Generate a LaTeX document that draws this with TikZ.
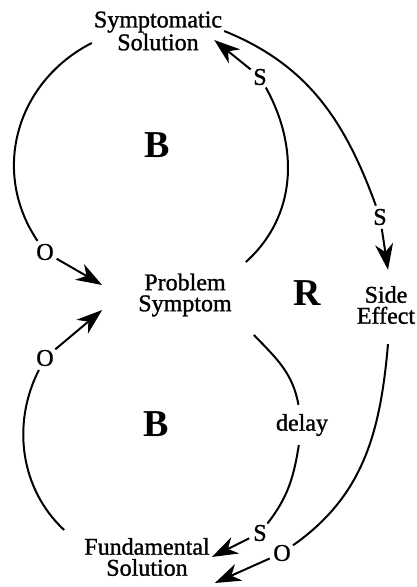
\documentclass[tikz,border=0pt]{standalone}
\usepackage{fontspec}
\setmainfont{Liberation Serif}[UprightFeatures={FakeBold=1.2}]
\usetikzlibrary{arrows.meta}

\tikzset{
  var/.style={align=center,font=\fontsize{24}{21}\selectfont,inner sep=2pt},
  sign/.style={circle,inner sep=1pt,font=\fontsize{24}{24}\selectfont},
  loopmark/.style={font=\bfseries\fontsize{38}{38}\selectfont},
  link/.style={line width=2pt},
  arr/.style={link,-{Stealth[length=26pt,width=18pt,inset=8pt]}}
}

\begin{document}
\begin{tikzpicture}[x=1pt,y=1pt]
\useasboundingbox (0,0) rectangle (417,587);
% variables
\node[var] (symsol) at (158,556) {Symptomatic\\Solution};
\node[var] (probsym) at (185,292) {Problem\\Symptom};
\node[var] (sideeff) at (386,282) {Side\\Effect};
\node[var] (fundsol) at (147,30) {Fundamental\\Solution};
% loop markers
\node[loopmark] (btop) at (157,442) {B};
\node[loopmark] (rmid) at (307,294) {R};
\node[loopmark] (bbot) at (156,163) {B};
% link signs
\node[sign] (s1) at (260,510) {S};
\node[sign] (s2) at (380,370) {S};
\node[sign] (s3) at (260,54) {S};
\node[sign] (o1) at (45,335) {O};
\node[sign] (o2) at (45,229) {O};
\node[sign] (o4) at (282,34) {O};
\node[var,inner ysep=9pt] (dly) at (302,162) {delay};
% top loop
\draw[link] ([yshift=-12pt]symsol.west) to[out=207,in=124,looseness=1.05] (o1);
\draw[arr] (o1) -- ([xshift=-34pt,yshift=10pt]probsym.west);
\draw[link] ([xshift=12pt,yshift=33pt]probsym.east) to[out=42,in=-61] (s1);
\draw[arr] (s1) -- ([xshift=-10pt,yshift=-9pt]symsol.east);
% side effect
\draw[link] (symsol.east) to[out=-22,in=110] (s2);
\draw[arr] (s2) -- ([xshift=2pt,yshift=14pt]sideeff.north);
\draw[link] ([xshift=2pt,yshift=-18pt]sideeff.south) to[out=-95,in=35] (o4);
\draw[arr] (o4) -- ([xshift=3pt,yshift=-26pt]fundsol.east);
% bottom loop
\draw[link] ([xshift=20pt,yshift=-40pt]probsym.east) to[out=-46,in=100] (dly);
\draw[link] (dly) to[out=-99,in=52] (s3);
\draw[arr] (s3) -- (fundsol.east);
\draw[link] ([xshift=-18pt,yshift=27pt]fundsol.west) to[out=137,in=-117,looseness=0.95] (o2);
\draw[arr] (o2) -- ([xshift=-34pt,yshift=-15pt]probsym.west);
\end{tikzpicture}
\end{document}
